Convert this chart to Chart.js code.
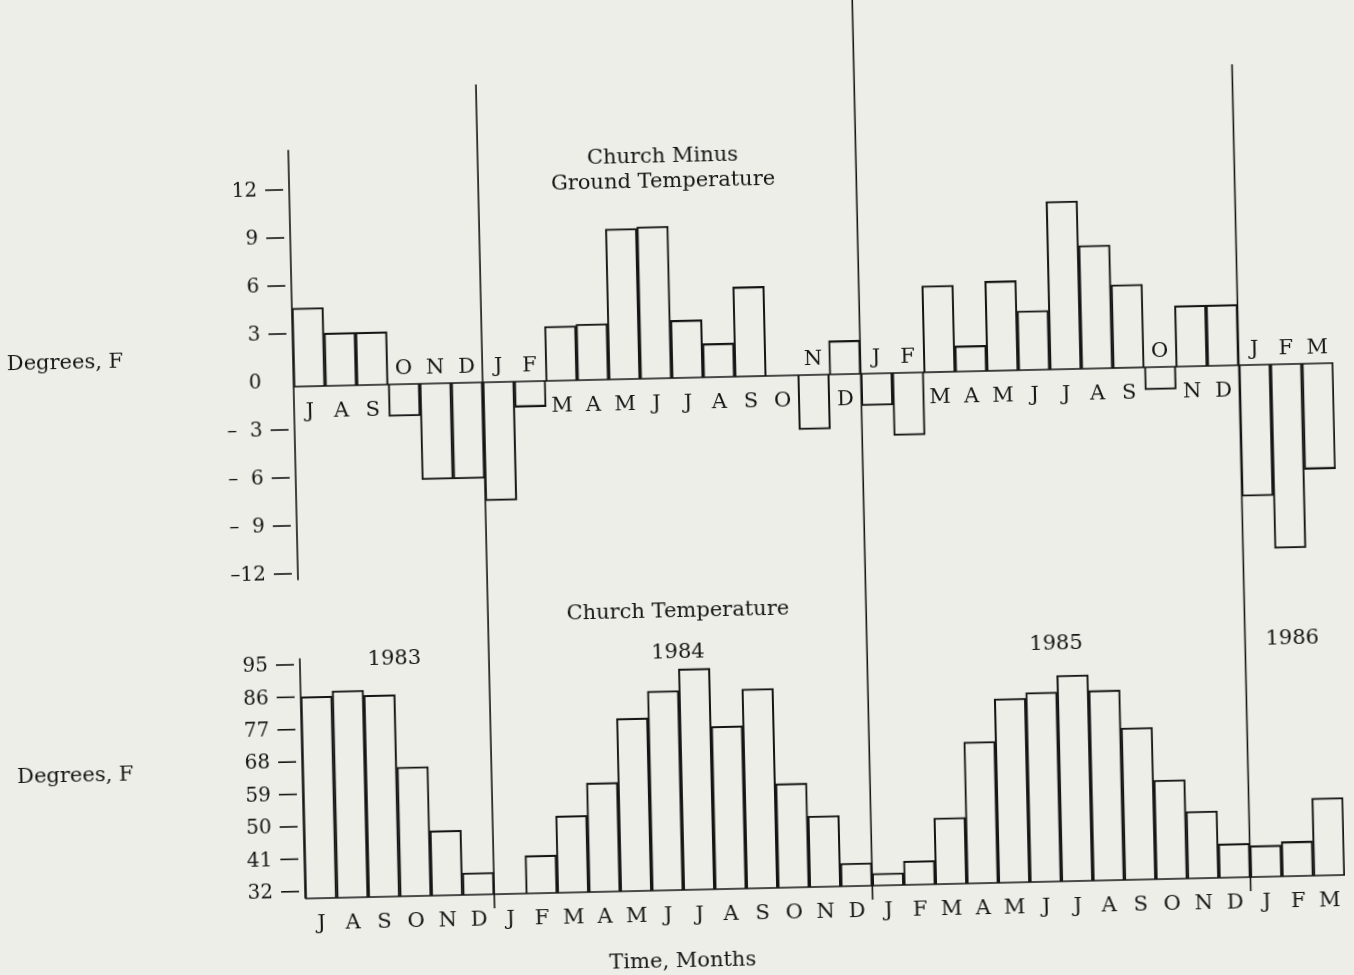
<!DOCTYPE html>
<html>
<head>
<meta charset="utf-8">
<script src="https://cdn.jsdelivr.net/npm/chart.js@4.4.1/dist/chart.umd.min.js"></script>
<style>
  html, body { margin: 0; padding: 0; background: #eeeee8; overflow: hidden; }
  #page { position: relative; width: 1354px; height: 975px; transform: rotate(-1.3deg); transform-origin: 677px 487px; }
  canvas { position: absolute; left: 0; top: 0; }
</style>
</head>
<body>
<div id="page"><canvas id="chart" width="1354" height="975"></canvas></div>
<script>
// months Jul 1983 .. Mar 1986
const months = ["J", "A", "S", "O", "N", "D",
  "J", "F", "M", "A", "M", "J", "J", "A", "S", "O", "N", "D",
  "J", "F", "M", "A", "M", "J", "J", "A", "S", "O", "N", "D",
  "J", "F", "M"];

// church minus ground temperature, deg F
const minusGround = [4.9, 3.3, 3.3, -2.0, -6.0, -6.0,
  -7.4, -1.6, 3.4, 3.5, 9.4, 9.5, 3.6, 2.1, 5.6, 0, -3.4, 2.1,
  -2.0, -3.9, 5.4, 1.6, 5.6, 3.7, 10.5, 7.7, 5.2, -1.4, 3.8, 3.8,
  -8.2, -11.5, -6.6];

// church temperature, deg F
const churchTemp = [86.0, 87.5, 86.0, 65.9, 48.0, 36.1,
  30, 40.5, 51.3, 60.3, 78.0, 85.4, 91.4, 75.2, 85.4, 58.9, 49.7, 36.4,
  33.4, 36.6, 48.4, 69.3, 81.1, 82.6, 87.2, 82.8, 72.2, 57.5, 48.6, 39.4,
  38.7, 39.6, 51.5];

const years = ["1983", "1984", "1985", "1986"];
const yearStarts = [6, 18, 30];

const topTicks = [12, 9, 6, 3, 0, -3, -6, -9, -12];
const bottomTicks = [95, 86, 77, 68, 59, 50, 41, 32];

const INK = "#151515";
const FONT = "'DejaVu Serif', 'Liberation Serif', serif";

Chart.defaults.font.family = FONT;
Chart.defaults.color = INK;

function line(ctx, x1, y1, x2, y2) {
  ctx.beginPath();
  ctx.moveTo(x1, y1);
  ctx.lineTo(x2, y2);
  ctx.stroke();
}

function topLabel(v) {
  if (v >= 0) return String(v);
  const a = Math.abs(v);
  return "\u2013" + (a < 10 ? "\u2007" : "") + a;
}

const overlay = {
  id: "overlay",
  afterDatasetsDraw(chart, args, opts) {
    const { ctx, chartArea: a, scales: { x, yTop, yBot } } = chart;
    ctx.save();
    ctx.strokeStyle = INK;
    ctx.fillStyle = INK;
    ctx.lineWidth = 1.6;

    // axes and base lines
    const zero = yTop.getPixelForValue(0);
    line(ctx, a.left, zero, a.right, zero);
    line(ctx, a.left, yTop.getPixelForValue(opts.topAxis[0]), a.left, yTop.getPixelForValue(opts.topAxis[1]));
    line(ctx, a.left, yBot.getPixelForValue(opts.bottomAxisTop), a.left, a.bottom);
    line(ctx, a.left, a.bottom, a.right, a.bottom);

    // year dividers
    yearStarts.forEach((idx, i) => {
      const xp = (x.getPixelForValue(idx - 1) + x.getPixelForValue(idx)) / 2;
      line(ctx, xp, opts.dividerTops[i], xp, a.bottom + opts.dividerBelow);
    });

    ctx.textBaseline = "middle";

    // y ticks (the printed scale sits a little above the drawn zero line)
    ctx.font = "20px " + FONT;
    ctx.textAlign = "right";
    topTicks.forEach(v => {
      const y = yTop.getPixelForValue(v) + opts.topTickShift;
      ctx.fillText(topLabel(v), a.left - 32, y + 1);
      if (v !== 0) line(ctx, a.left - 24, y, a.left - 6, y);
    });
    bottomTicks.forEach(v => {
      const y = yBot.getPixelForValue(v);
      ctx.fillText(String(v), a.left - 32, y + 1);
      line(ctx, a.left - 24, y, a.left - 6, y);
    });

    // month letters along the zero line of the upper chart
    ctx.font = "21px " + FONT;
    ctx.textAlign = "center";
    months.forEach((m, i) => {
      const xp = x.getPixelForValue(i);
      const y = minusGround[i] < 0 ? zero - 15 : zero + 26;
      ctx.fillText(m, xp, y);
    });

    // titles and labels
    ctx.fillText("Church Minus", opts.titleX, 157);
    ctx.fillText("Ground Temperature", opts.titleX, 182);
    ctx.fillText("Church Temperature", opts.titleX + 5, 612);
    ctx.fillText("Degrees, F", 68, 350);
    ctx.fillText("Degrees, F", 69, 763);
    ctx.fillText("Time, Months", opts.titleX + 2, 962);
    years.forEach((yr, i) => {
      ctx.fillText(yr, x.getPixelForValue(opts.yearAt[i]), 653);
    });
    ctx.restore();
  }
};

const barStyle = {
  grouped: false,
  backgroundColor: "rgba(0,0,0,0)",
  borderColor: INK,
  borderWidth: 1.4,
  barPercentage: 1,
  categoryPercentage: 1
};

new Chart(document.getElementById("chart"), {
  type: "bar",
  data: {
    labels: months,
    datasets: [
      { label: "Church Minus Ground Temperature", data: minusGround, yAxisID: "yTop", ...barStyle },
      { label: "Church Temperature", data: churchTemp, yAxisID: "yBot", ...barStyle }
    ]
  },
  options: {
    responsive: false,
    animation: false,
    devicePixelRatio: 1,
    layout: { padding: { left: 296, right: 18, top: 0, bottom: 47 } },
    plugins: {
      legend: { display: false },
      tooltip: { enabled: false },
      overlay: {
        topAxis: [14.8, -12.1],
        topTickShift: -5,
        bottomAxisTop: 96.7,
        dividerTops: [80, 0, 77],
        dividerBelow: 14,
        yearAt: [2.5, 11.5, 23.5, 31],
        titleX: 670
      }
    },
    scales: {
      x: {
        offset: true,
        grid: { display: false, drawTicks: false },
        border: { display: false },
        ticks: { autoSkip: false, maxRotation: 0, padding: 13, color: INK, font: { size: 21 } },
        afterFit: s => { s.height = 38; }
      },
      yTop: { type: "linear", position: "left", min: -32, max: 23.625, display: false },
      yBot: { type: "linear", position: "left", min: 30, max: 277.2, display: false }
    }
  },
  plugins: [overlay]
});
</script>
</body>
</html>
